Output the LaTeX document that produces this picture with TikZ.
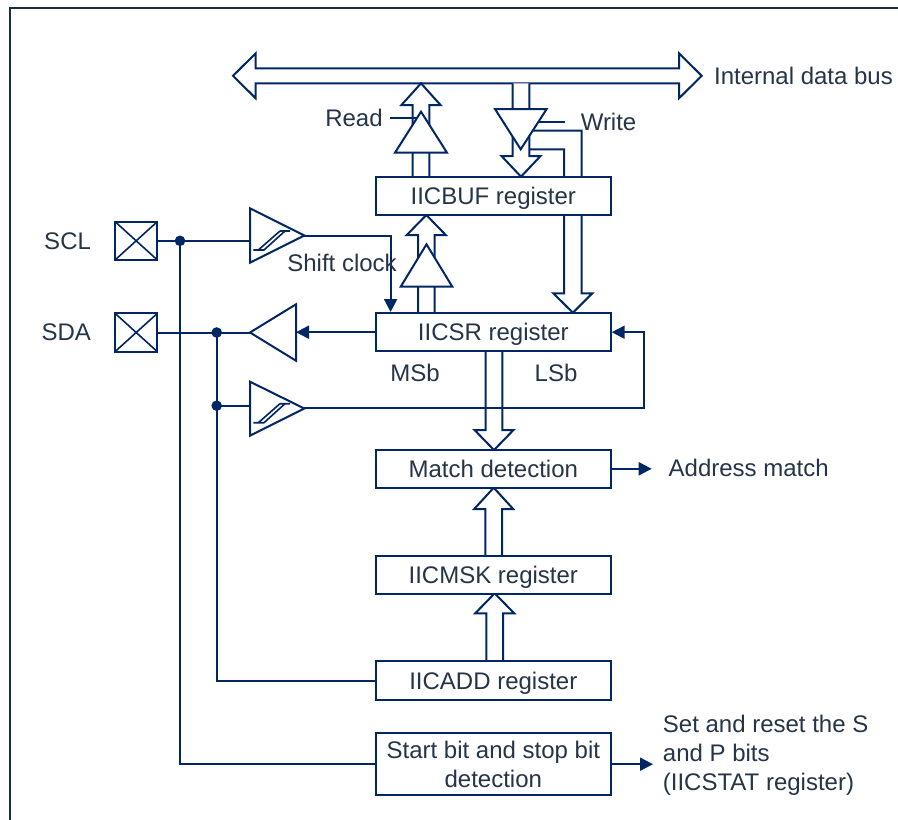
\documentclass[tikz,border=0pt]{standalone}
\usepackage{fontspec}
\setmainfont{Liberation Sans}
\usetikzlibrary{arrows.meta,positioning}
\definecolor{wire}{RGB}{0,38,100}
\definecolor{ink}{RGB}{38,52,72}
\definecolor{framec}{RGB}{30,45,60}
\tikzset{
  sig/.style={draw=wire,line width=1pt},
  tip/.style={-{Triangle[length=6.5pt,width=6.5pt]}},
  blk/.style={draw=wire,line width=1pt,fill=white,minimum width=117.4pt,minimum height=19.2pt,inner sep=0pt,text=ink},
  reg/.style={blk,text height=8.6pt,text depth=0pt},
  pad/.style={draw=wire,line width=1pt,minimum width=21.2pt,minimum height=19.2pt,inner sep=0pt,
    path picture={\draw[wire,line width=0.8pt] (path picture bounding box.south west) -- (path picture bounding box.north east)
      (path picture bounding box.north west) -- (path picture bounding box.south east);}},
  lbl/.style={text=ink},
  dot/.style={circle,fill=wire,inner sep=0pt,minimum size=5.3pt},
  every node/.style={font=\fontsize{12}{14.3}\selectfont}
}
% wide bus arrow: x, tail y, head base y, tip y
\newcommand{\fatarrow}[4]{\draw[sig,fill=white] (#1-8.3,#2) -- (#1-8.3,#3) -- (#1-19.5,#3) -- (#1,#4) -- (#1+19.5,#3) -- (#1+8.3,#3) -- (#1+8.3,#2);}
% hysteresis mark in a buffer: left x, centre y
\newcommand{\hyst}[2]{\draw[wire,line width=0.8pt] (#1+3.3,#2+14) -- (#1+14,#2+14) (#1+8.3,#2+14) -- (#1+30,#2-5) (#1+14,#2+14) -- (#1+35,#2-5) (#1+30,#2-5) -- (#1+40,#2-5);}
\begin{document}
\begin{tikzpicture}[x=0.5pt,y=-0.5pt]
  \useasboundingbox (0,0) rectangle (898,819);
  \draw[framec,line width=1pt] (900,8.3) -- (10,8.3) -- (10,821);

  % internal data bus
  \draw[sig,fill=white] (233,75.8) -- (255.7,53.3) -- (255.7,68.3) -- (679,68.3) -- (679,53.3) -- (701.7,75.8)
    -- (679,98.3) -- (679,83.3) -- (255.7,83.3) -- (255.7,98.3) -- cycle;
  \node[lbl,anchor=west] (bus) at (707,75.8) {Internal data bus};

  % read / write paths
  \fatarrow{421}{176.7}{105}{83.3}
  \fatarrow{521}{83.3}{156}{176.7}
  \draw[sig] (532.7,130.7) -- (581.7,130.7) -- (581.7,293.3) -- (592.3,293.3) -- (572.9,312.7)
    -- (553.3,293.3) -- (564,293.3) -- (564,149.3) -- (529.3,149.3);
  \fatarrow{426.3}{313.3}{235}{215}
  \fatarrow{494}{351}{430}{450}
  \fatarrow{493.7}{556}{509}{487.7}
  \fatarrow{494.7}{661.7}{613.3}{593.3}
  \draw[sig,fill=white] (395,152.7) -- (447,152.7) -- (421,111.7) -- cycle;
  \draw[sig,fill=white] (495,109) -- (546.7,109) -- (520.7,149.3) -- cycle;
  \draw[sig,fill=white] (400.7,286.7) -- (452.3,286.7) -- (426.5,244.3) -- cycle;
  \node[lbl,anchor=east] (rd) at (389.7,118.3) {Read};
  \node[lbl,anchor=west] (wr) at (573.7,121.7) {Write};
  \draw[sig] (rd.east) -- (417,118.3);
  \draw[sig] (538.5,121.7) -- ([xshift=-4.3pt]wr.west);

  % registers
  \node[reg] (buf) at (493.3,195.8) {IICBUF register};
  \node[reg] (sr) at (493.3,332.2) {IICSR register};
  \node[reg] (match) at (493.3,468.8) {Match detection};
  \node[reg] (msk) at (493.3,574.7) {IICMSK register};
  \node[reg] (add) at (493.3,680.5) {IICADD register};
  \node[blk,minimum height=30.9pt,align=center] (ss) at (493.3,764.2) {Start bit and stop bit\\detection};
  \node[lbl] (msb) at (415,372.7) {MSb};
  \node[lbl] (lsb) at (556,372.7) {LSb};

  % pins
  \node[pad] (sclpad) at (136.2,240.8) {};
  \node[pad] (sdapad) at (136.2,332.5) {};
  \node[lbl,left=8pt of sclpad] (scl) {SCL};
  \node[lbl,left=8pt of sdapad] (sda) {SDA};

  % buffers
  \draw[sig,fill=white] (250,208.3) -- (304.3,235.5) -- (250,262.7) -- cycle;
  \hyst{250}{236}
  \draw[sig,fill=white] (250,332.5) -- (296,304.3) -- (296,360.7) -- cycle;
  \draw[sig,fill=white] (250,381.7) -- (304.3,408.5) -- (250,435.7) -- cycle;
  \hyst{250}{408.7}
  \coordinate (sclin) at (250,240.8);
  \coordinate (sclout) at (304.3,235.5);
  \coordinate (sdaout) at (250,332.5);
  \coordinate (sdadrv) at (296,332.2);
  \coordinate (sdain) at (250,405.7);
  \coordinate (sdarx) at (304.3,408.3);

  % wires
  \node[dot] (j1) at (180,240.8) {};
  \node[dot] (j2) at (216.7,332.5) {};
  \node[dot] (j3) at (216.7,405.7) {};
  \draw[sig] (sclpad.east) -- (sclin);
  \draw[sig] (sdapad.east) -- (sdaout);
  \draw[sig] (j1.center) |- (ss.west);
  \draw[sig] (j2.center) |- (add.west);
  \draw[sig] (j3.center) -- (sdain);
  \draw[sig,tip] (sr.west) -- (sdadrv);
  \draw[sig,tip] (sclout) -| ([xshift=7.85pt]sr.north west);
  \node[lbl,anchor=west] (shclk) at (280.3,263.3) {Shift clock};
  \draw[sig,tip] (sdarx) -- (644.3,408.3) |- (sr.east);

  % outputs
  \node[lbl,anchor=west,inner xsep=8.3pt] (am) at (651.7,468.3) {Address match};
  \draw[sig,tip] (match.east) -- (match.east -| am.west);
  \node[lbl,anchor=west,align=left,inner xsep=4.75pt] (stat) at (653,755.3) {Set and reset the S\\and P bits\\(IICSTAT register)};
  \draw[sig,tip] (ss.east) -- (ss.east -| stat.west);
\end{tikzpicture}
\end{document}
